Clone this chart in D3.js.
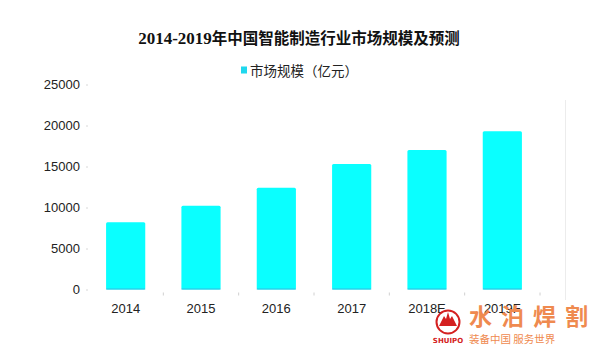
<!DOCTYPE html>
<html>
<head>
<meta charset="utf-8">
<script src="https://cdn.jsdelivr.net/npm/d3@7"></script>
<style>
  html, body { margin: 0; padding: 0; background: #fff; }
  svg { display: block; }
</style>
</head>
<body>
<svg id="chart" width="600" height="346"></svg>
<script>
// Market size of China's intelligent manufacturing industry (100 million yuan)
const categories = ["2014", "2015", "2016", "2017", "2018E", "2019F"];
const marketSize = [8200, 10200, 12400, 15300, 17000, 19300];
const yTicks = [0, 5000, 10000, 15000, 20000, 25000];
const titleText = "2014-2019年中国智能制造行业市场规模及预测";
const legendText = "市场规模（亿元）";

const svg = d3.select("#chart");
const plot = { left: 88, right: 540, top: 84.5, bottom: 289.5 };

const x = d3.scaleBand()
  .domain(categories)
  .range([plot.left, plot.right])
  .paddingInner(0.48)
  .paddingOuter(0.24);

const y = d3.scaleLinear()
  .domain([0, 25000])
  .range([plot.bottom, plot.top]);

// Title: year range in a serif face, the rest in CJK bold
const title = svg.append("text")
  .attr("x", 299).attr("y", 44)
  .attr("text-anchor", "middle")
  .attr("font-weight", "bold")
  .attr("fill", "#111");
const yearPart = titleText.match(/^[0-9\-]+/)[0];
title.append("tspan")
  .attr("font-family", "'Liberation Serif', serif")
  .attr("font-size", 17)
  .text(yearPart);
title.append("tspan")
  .attr("font-family", "'Noto Sans CJK SC', sans-serif")
  .attr("font-size", 15.5)
  .text(titleText.slice(yearPart.length));

// Legend
const legend = svg.append("g").attr("transform", "translate(241,70)");
legend.append("rect")
  .attr("x", 0).attr("y", -3.5).attr("width", 6).attr("height", 7)
  .attr("fill", "#1fd8ee");
legend.append("text")
  .attr("x", 9).attr("y", 0)
  .attr("dominant-baseline", "central")
  .attr("font-family", "'Noto Sans CJK SC', sans-serif")
  .attr("font-size", 13.5)
  .attr("fill", "#222")
  .text(legendText);

// Y axis: labels with faint tick marks, no domain line
const yAxis = d3.axisLeft(y).tickValues(yTicks).tickSize(2).tickPadding(6)
  .tickFormat(d3.format("d"));
const gy = svg.append("g").attr("transform", `translate(${plot.left},0)`).call(yAxis);
gy.select(".domain").remove();
gy.selectAll(".tick line").attr("stroke", "#d8d8d8");
gy.selectAll(".tick text")
  .attr("font-family", "'Liberation Sans', Arial, sans-serif")
  .attr("font-size", 13)
  .attr("fill", "#222");

// X axis: category labels, faint ticks at band boundaries
const gx = svg.append("g").attr("transform", `translate(0,${plot.bottom})`);
gx.selectAll("text")
  .data(categories)
  .join("text")
  .attr("x", d => x(d) + x.bandwidth() / 2)
  .attr("y", 23)
  .attr("text-anchor", "middle")
  .attr("font-family", "'Liberation Sans', Arial, sans-serif")
  .attr("font-size", 13)
  .attr("fill", "#222")
  .text(d => d);
const boundaries = categories.slice(1).map(d => x(d) - x.step() * x.paddingInner() / 2)
  .concat([plot.right]);
gx.selectAll("line.sep")
  .data(boundaries)
  .join("line")
  .attr("class", "sep")
  .attr("x1", d => d).attr("x2", d => d)
  .attr("y1", 3).attr("y2", 6)
  .attr("stroke", "#d0d0d0");

// Faint frame line on the right
svg.append("line")
  .attr("x1", 565.5).attr("x2", 565.5)
  .attr("y1", 100).attr("y2", 300)
  .attr("stroke", "#ececec");

// Bars
const bars = svg.append("g");
bars.selectAll("rect")
  .data(categories.map((c, i) => ({ c, v: marketSize[i] })))
  .join("rect")
  .attr("x", d => x(d.c))
  .attr("y", d => y(d.v))
  .attr("width", x.bandwidth())
  .attr("height", d => y(0) - y(d.v))
  .attr("rx", 1.5)
  .attr("fill", "#0affff");
bars.selectAll("line")
  .data(categories)
  .join("line")
  .attr("x1", d => x(d)).attr("x2", d => x(d) + x.bandwidth())
  .attr("y1", plot.bottom - 0.5).attr("y2", plot.bottom - 0.5)
  .attr("stroke", "#33bde0");

// Brand mark in the bottom-right corner
const brand = svg.append("g");
brand.append("circle")
  .attr("cx", 448).attr("cy", 322).attr("r", 11.5)
  .attr("fill", "#fff").attr("stroke", "#d42020").attr("stroke-width", 2);
brand.append("path")
  .attr("d", "M439,326 L444,316 L446,319 L448,312 L450,319 L452,316 L457,326 Z")
  .attr("fill", "#d42020");
brand.append("text")
  .attr("x", 448).attr("y", 343)
  .attr("text-anchor", "middle")
  .attr("font-family", "'DejaVu Sans', sans-serif")
  .attr("font-weight", "bold")
  .attr("font-size", 7)
  .attr("fill", "#d42020")
  .text("SHUIPO");
brand.append("text")
  .attr("x", 469).attr("y", 325)
  .attr("font-family", "'Noto Sans CJK SC', sans-serif")
  .attr("font-weight", "bold")
  .attr("font-size", 23)
  .attr("letter-spacing", 9)
  .attr("fill", "#ef8a4f")
  .text("水泊焊割");
brand.append("text")
  .attr("x", 469).attr("y", 343)
  .attr("font-family", "'Noto Sans CJK SC', sans-serif")
  .attr("font-size", 10.5)
  .attr("fill", "#ef8a4f")
  .text("装备中国 服务世界");
</script>
</body>
</html>
